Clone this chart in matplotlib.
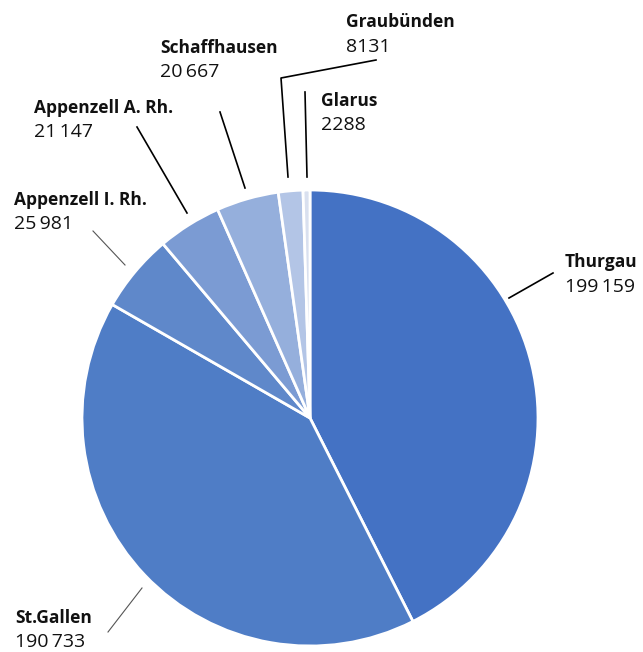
import numpy as np
import matplotlib.pyplot as plt

plt.rcParams['font.family'] = ['Open Sans', 'DejaVu Sans']

cantons = ["Thurgau", "St.Gallen", "Appenzell I. Rh.", "Appenzell A. Rh.",
           "Schaffhausen", "Graubünden", "Glarus"]
values = [199159, 190733, 25981, 21147, 20667, 8131, 2288]
value_labels = ["199\u2009159", "190\u2009733", "25\u2009981", "21\u2009147",
                "20\u2009667", "8131", "2288"]
colors = ["#4472c4", "#4f7dc6", "#5f88ca", "#7b9bd3", "#95afdc", "#b3c5e6", "#d9e0ef"]

W, H = 643, 652
fig = plt.figure(figsize=(W / 100, H / 100), dpi=100)
ax = fig.add_axes([0, 0, 1, 1])

# pie centre / radius in pixel units
cx, cy, r = 310, H - 418, 228
ax.pie(values, colors=colors, startangle=90, counterclock=False,
       center=(cx, cy), radius=r, frame=True,
       wedgeprops=dict(edgecolor='white', linewidth=2))
ax.set_xlim(0, W)
ax.set_ylim(0, H)
ax.set_aspect('equal')
ax.axis('off')

# label positions (left x, baseline y of name, baseline y of number) in pixels
label_pos = {
    "Thurgau": (565, 267, 292),
    "St.Gallen": (15, 623, 647),
    "Appenzell I. Rh.": (14, 205, 229),
    "Appenzell A. Rh.": (34, 113, 137),
    "Schaffhausen": (160, 53, 77),
    "Graubünden": (346, 27, 52),
    "Glarus": (321, 106, 130),
}
for name, val in zip(cantons, value_labels):
    x, y1, y2 = label_pos[name]
    ax.text(x, H - y1, name, fontsize=12.5, fontweight='bold', va='baseline',
            ha='left', color='#111111')
    ax.text(x, H - y2, val, fontsize=14, va='baseline', ha='left', color='#111111')

# leader lines (pixel coords)
leaders = [
    ([553, 509], [273, 298], 'black', 1.2),
    ([108, 142], [632, 588], '#555555', 0.8),
    ([93, 125], [231, 265], '#555555', 0.8),
    ([137, 187], [127, 213], 'black', 1.2),
    ([220, 245], [112, 188], 'black', 1.2),
    ([376, 281, 288], [60, 78, 177], 'black', 1.2),
    ([305, 307], [92, 177], 'black', 1.2),
]
for xs, ys, c, lw in leaders:
    ax.plot(xs, [H - v for v in ys], color=c, linewidth=lw)

fig.savefig("out.png", dpi=100)
